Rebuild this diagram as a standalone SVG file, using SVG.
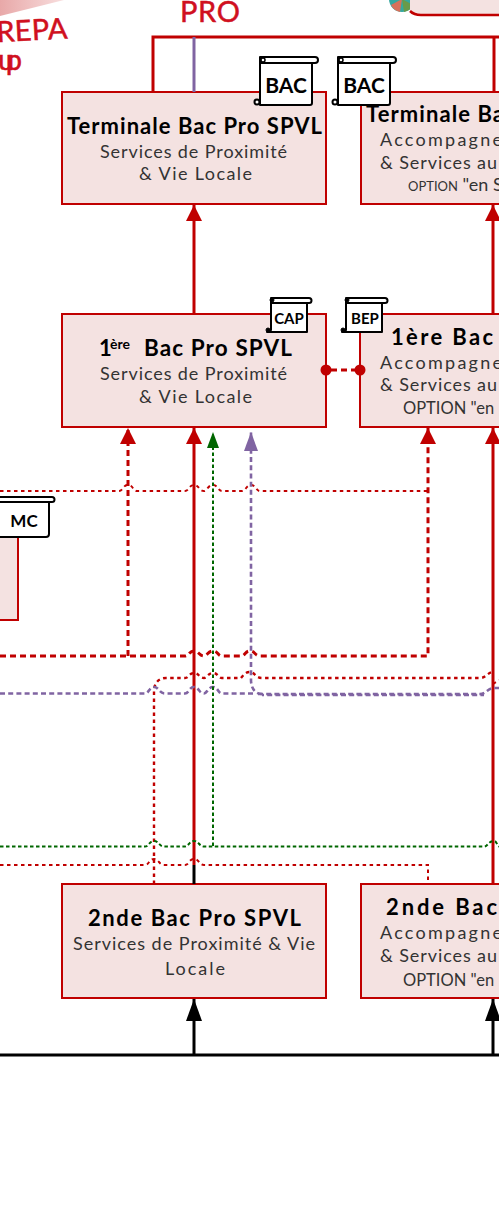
<svg xmlns="http://www.w3.org/2000/svg" width="499" height="1221" viewBox="0 0 499 1221">
<style>
text{font-family:"Lato","Liberation Sans",sans-serif;fill:#000}
.t{font-weight:700;font-size:22px}
.s{font-size:18px;font-weight:400;fill:#333}
.o{font-size:15px;font-weight:400;fill:#333}
.box{fill:#f4e2e1;stroke:#c00000;stroke-width:2}
.scroll{fill:#fff;stroke:#000;stroke-width:2;stroke-linejoin:round}
.sl{font-weight:700;text-anchor:middle}
.hand{fill:#d01020;stroke:#d01020;stroke-width:.5;font-size:29px}
path{fill:none}
.rs{stroke:#c00000;stroke-width:3}
.ps{stroke:#8064a2;stroke-width:3}
.bk{stroke:#000;stroke-width:3}
.rd{stroke:#c00000;stroke-width:3;stroke-dasharray:6 4}
.rf{stroke:#c00000;stroke-width:2;stroke-dasharray:3.5 3.5}
.pd{stroke:#8064a2;stroke-width:2.6;stroke-dasharray:5 3.2}
.gd{stroke:#006600;stroke-width:2;stroke-dasharray:3.5 2.5}
</style>
<defs>
<marker id="ar" markerUnits="userSpaceOnUse" markerWidth="16" markerHeight="16" refX="16" refY="8" orient="auto"><path d="M0 0L16 8L0 16Z" style="fill:#c00000"/></marker>
<marker id="ab" markerUnits="userSpaceOnUse" markerWidth="22" markerHeight="16" refX="22" refY="8" orient="auto"><path d="M0 0L22 8L0 16Z" style="fill:#000"/></marker>
<marker id="ag" markerUnits="userSpaceOnUse" markerWidth="16" markerHeight="12" refX="16" refY="6" orient="auto"><path d="M0 0L16 6L0 12Z" style="fill:#006600"/></marker>
<marker id="ap" markerUnits="userSpaceOnUse" markerWidth="19" markerHeight="14" refX="19" refY="7" orient="auto"><path d="M0 0L19 7L0 14Z" style="fill:#8064a2"/></marker>
<linearGradient id="fade" x1="0" y1="0" x2="1" y2="0"><stop offset="0" stop-color="#e8a8a8"/><stop offset="1" stop-color="#f8dede"/></linearGradient>
</defs>

<g id="decor">
<path d="M0 0H64L0 16Z" style="fill:url(#fade)"/>
<text class="hand" x="-3" y="42" transform="rotate(-3 0 42)" textLength="71">REPA</text>
<text class="hand" x="-2" y="70" textLength="24">up</text>
<text class="hand" x="180" y="22" textLength="60">PRO</text>
<circle cx="402" cy="-1" r="13" style="fill:#35a8a0"/>
<path d="M402 -1L391 5A13 13 0 0 0 400 12Z" style="fill:#d8705a"/>
<path d="M402 -1L404 12A13 13 0 0 0 413 5Z" style="fill:#6a9a4a"/>
<path d="M410 10Q414 15 421 15H499V-2H410Z" style="fill:#f4e2e1"/>
<path d="M410 11Q414 15 421 15H499" style="stroke:#c00000;stroke-width:2.5"/>
</g>

<g id="node-terminale-spvl">
<rect class="box" x="62" y="92" width="264" height="112"/>
<text class="t" x="67" y="134" textLength="255">Terminale Bac Pro SPVL</text>
<text class="s" x="100" y="158" textLength="187">Services de Proximité</text>
<text class="s" x="139" y="180" textLength="113">&amp; Vie Locale</text>
</g>
<g id="node-terminale-assp">
<rect class="box" x="361" y="92" width="140" height="112"/>
<text class="t" x="366" y="122" textLength="138">Terminale Ba</text>
<text class="s" x="380" y="146" textLength="122">Accompagne</text>
<text class="s" x="380" y="169" textLength="117">&amp; Services au</text>
<text x="408" y="191" class="o" style="font-size:13px">OPTION<tspan style="font-size:18px"> "en S</tspan></text>
</g>
<g id="node-1ere-spvl">
<rect class="box" x="62" y="314" width="264" height="113"/>
<text class="t" x="99" y="356">1<tspan x="110" dy="-7" style="font-size:14px">ère</tspan><tspan x="144" dy="7" style="letter-spacing:1.1px;font-size:22.5px">Bac Pro SPVL</tspan></text>
<text class="s" x="100" y="380" textLength="187">Services de Proximité</text>
<text class="s" x="139" y="403" textLength="113">&amp; Vie Locale</text>
</g>
<g id="node-1ere-assp">
<rect class="box" x="360" y="314" width="141" height="113"/>
<text class="t" x="391" y="345" textLength="102">1ère Bac</text>
<text class="s" x="380" y="369" textLength="122">Accompagne</text>
<text class="s" x="380" y="391" textLength="117">&amp; Services au</text>
<text class="o" x="403" y="414" style="font-size:16.5px">OPTION "en</text>
</g>
<g id="node-2nde-spvl">
<rect class="box" x="62" y="884" width="264" height="114"/>
<text class="t" x="88" y="926" textLength="213">2nde Bac Pro SPVL</text>
<text class="s" x="73" y="950" textLength="242">Services de Proximité &amp; Vie</text>
<text class="s" x="165" y="975" textLength="60">Locale</text>
</g>
<g id="node-2nde-assp">
<rect class="box" x="361" y="884" width="140" height="114"/>
<text class="t" x="386" y="915" textLength="111">2nde Bac</text>
<text class="s" x="380" y="939" textLength="122">Accompagne</text>
<text class="s" x="380" y="962" textLength="117">&amp; Services au</text>
<text class="o" x="403" y="986" style="font-size:16.5px">OPTION "en</text>
</g>
<g id="node-mc-box">
<rect class="box" x="-5" y="530" width="23" height="90"/>
</g>

<g id="connectors">
<path class="rs" d="M153 92V37H499"/>
<path class="rs" d="M494 37V92"/>
<path class="ps" d="M194 37V92"/>
<path class="rs" d="M194 314V205" marker-end="url(#ar)"/>
<path class="rs" d="M493 314V205" marker-end="url(#ar)"/>
<path class="bk" d="M194 884V865"/>
<path class="rs" d="M194 865V428" marker-end="url(#ar)"/>
<path class="rs" d="M493 884V428" marker-end="url(#ar)"/>
<path class="bk" d="M0 1055H499"/>
<path class="bk" d="M194 1055V999" marker-end="url(#ab)"/>
<path class="bk" d="M493 1055V999" marker-end="url(#ab)"/>
<path class="rd" d="M331 370H356"/>
<circle cx="326" cy="370" r="5.5" style="fill:#c00000"/>
<circle cx="360" cy="370" r="5.5" style="fill:#c00000"/>
<path class="rd" d="M0 656H185C189 656 189 651 194 651C199 651 199 656 204 656C207 656 208 651 213 651C218 651 218 656 222 656H241C245 656 245 651 250 651C255 651 255 656 260 656H428V428" marker-end="url(#ar)"/>
<path class="rd" d="M128 656V428" marker-end="url(#ar)"/>
<path class="rf" d="M0 491H119C123 491 123 485 128 485C133 485 133 491 137 491H185C189 491 189 485 194 485C199 485 199 491 204 491C207 491 208 485 213 485C218 485 218 491 222 491H242C246 491 246 485 251 485C256 485 256 491 260 491H427"/>
<path class="rf" style="stroke-width:2.4" d="M154 884V691C154 684 158 678 166 678H185C189 678 189 673 194 673C199 673 199 678 204 678C207 678 208 673 213 673C218 673 218 678 222 678H241C245 673 247 672 250 672C255 672 255 678 262 678H480C486 678 488 672 493 672"/>
<path class="rf" d="M493 684L499 680"/>
<path class="pd" d="M262 694C255 694 251 688 251 680V432" marker-end="url(#ap)"/>
<path class="pd" d="M258 694H480C486 694 488 688 494 688H499"/>
<path class="pd" style="stroke-dashoffset:3" d="M262 695H484"/>
<path class="pd" d="M0 693.5H145C149 693.5 149 687 154 687C159 687 159 693.5 165 693.5H185C189 693.5 189 687 194 687C199 687 199 693.5 204 693.5C207 693.5 208 687 213 687C218 687 218 693.5 222 693.5H254"/>
<path class="gd" d="M213 846V432" marker-end="url(#ag)"/>
<path class="gd" d="M0 846.5H145C149 846.5 149 841 154 841C159 841 159 846.5 164 846.5H185C189 846.5 189 841 194 841C199 841 199 846.5 204 846.5H484C488 846.5 488 841 494 841C497 841 497 846 499 846.5"/>
<path class="rf" d="M0 865H145C149 865 149 859 154 859C159 859 159 865 164 865H185C189 865 189 859 194 859C199 859 199 865 204 865H428V884"/>
</g>

<g id="badge-bac-1">
<path class="scroll" d="M260 60H312V103Q312 105 310 105H260Z"/>
<path class="scroll" d="M260 57H315A3 3 0 0 1 315 63H260Z"/>
<circle cx="263" cy="60" r="2" style="fill:#fff;stroke:#000;stroke-width:1.5"/>
<circle cx="257" cy="102" r="2.5" style="fill:#fff;stroke:#000;stroke-width:2"/>
<text class="sl" x="286" y="93" style="font-size:21px">BAC</text>
</g>
<g id="badge-bac-2">
<path class="scroll" d="M338 60H390V103Q390 105 388 105H338Z"/>
<path class="scroll" d="M338 57H393A3 3 0 0 1 393 63H338Z"/>
<circle cx="341" cy="60" r="2" style="fill:#fff;stroke:#000;stroke-width:1.5"/>
<circle cx="335" cy="102" r="2.5" style="fill:#fff;stroke:#000;stroke-width:2"/>
<text class="sl" x="364" y="93" style="font-size:21px">BAC</text>
</g>
<g id="badge-cap">
<path class="scroll" d="M271 301H307V332H267L271 330Z"/>
<path class="scroll" d="M271 298H309A2.5 2.5 0 0 1 309 303H271Z"/>
<circle cx="268" cy="330" r="2" style="fill:#000;stroke:#000;stroke-width:1"/>
<circle cx="272" cy="300" r="2" style="fill:#000;stroke:#000;stroke-width:1"/>
<text class="sl" x="289" y="324" style="font-size:15px">CAP</text>
</g>
<g id="badge-bep">
<path class="scroll" d="M346 301H382V332H342L346 330Z"/>
<path class="scroll" d="M346 298H385A2.5 2.5 0 0 1 385 303H346Z"/>
<circle cx="343" cy="330" r="2" style="fill:#000;stroke:#000;stroke-width:1"/>
<circle cx="347" cy="300" r="2" style="fill:#000;stroke:#000;stroke-width:1"/>
<text class="sl" x="365" y="324" style="font-size:15px">BEP</text>
</g>
<g id="badge-mc">
<path class="scroll" d="M-5 500H49V534Q49 537 46 537H-5Z"/>
<path class="scroll" d="M-5 497H52A2.5 2.5 0 0 1 52 502H-5Z"/>
<text class="sl" x="24" y="527" style="font-size:17px">MC</text>
</g>
</svg>
